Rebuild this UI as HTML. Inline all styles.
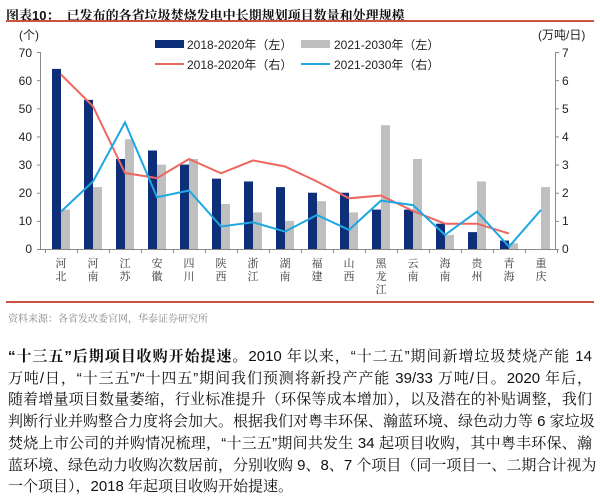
<!DOCTYPE html>
<html><head><meta charset="utf-8">
<style>
body{margin:0;width:600px;height:502px;background:#fff;overflow:hidden;position:relative;font-family:"Liberation Sans","Noto Sans CJK SC",sans-serif;}
.t{position:absolute;white-space:nowrap;}
.p{position:absolute;left:8px;width:584px;font-size:15px;line-height:18px;color:#111;text-align:justify;text-align-last:justify;white-space:nowrap;font-family:"Liberation Sans","Noto Serif CJK SC",serif;}
.p.last{text-align-last:left}
</style></head><body>
<div class="t" style="left:6px;top:5px;font-size:13px;font-weight:bold;color:#111;font-family:'Liberation Sans','Noto Serif CJK SC',serif;">图表10：&nbsp;&nbsp;已发布的各省垃圾焚烧发电中长期规划项目数量和处理规模</div>
<div style="position:absolute;left:6px;top:20px;width:588px;height:2px;background:#c9533e;"></div>
<svg width="600" height="310" style="position:absolute;left:0;top:0" id="c" font-family="Liberation Sans, Noto Sans CJK SC, sans-serif">
<g font-size="12" fill="#222">
<text x="19" y="39">(个)</text>
<text x="538" y="39">(万吨/日)</text>
<g text-anchor="end">
<text x="32" y="57">70</text><text x="32" y="85">60</text><text x="32" y="113">50</text><text x="32" y="141">40</text><text x="32" y="169">30</text><text x="32" y="197">20</text><text x="32" y="225">10</text><text x="32" y="253">0</text>
</g>
<text x="562" y="57">7</text><text x="562" y="85">6</text><text x="562" y="113">5</text><text x="562" y="141">4</text><text x="562" y="169">3</text><text x="562" y="197">2</text><text x="562" y="225">1</text><text x="562" y="253">0</text>
</g>
<g id="bars"></g>
<g stroke="#888" stroke-width="1" fill="none" id="axes">
<line x1="40.5" y1="52" x2="40.5" y2="249"/>
<line x1="555.5" y1="52" x2="555.5" y2="249"/>
<line x1="40" y1="249.5" x2="556" y2="249.5"/>
</g>
<g font-size="11" fill="#333" text-anchor="middle" id="xl" font-family="Liberation Serif, Noto Serif CJK SC, serif">
<text x="61" y="267">河</text><text x="61" y="280">北</text>
<text x="93" y="267">河</text><text x="93" y="280">南</text>
<text x="125" y="267">江</text><text x="125" y="280">苏</text>
<text x="157" y="267">安</text><text x="157" y="280">徽</text>
<text x="189" y="267">四</text><text x="189" y="280">川</text>
<text x="221" y="267">陕</text><text x="221" y="280">西</text>
<text x="253" y="267">浙</text><text x="253" y="280">江</text>
<text x="285" y="267">湖</text><text x="285" y="280">南</text>
<text x="317" y="267">福</text><text x="317" y="280">建</text>
<text x="349" y="267">山</text><text x="349" y="280">西</text>
<text x="381" y="267">黑</text><text x="381" y="280">龙</text><text x="381" y="293">江</text>
<text x="413" y="267">云</text><text x="413" y="280">南</text>
<text x="445" y="267">海</text><text x="445" y="280">南</text>
<text x="477" y="267">贵</text><text x="477" y="280">州</text>
<text x="509" y="267">青</text><text x="509" y="280">海</text>
<text x="541" y="267">重</text><text x="541" y="280">庆</text>
</g>
<g font-size="12" fill="#222">
<rect x="155" y="40" width="29" height="8" fill="#0d2f7a"/><text x="187" y="49">2018-2020年（左）</text>
<rect x="301" y="40" width="29" height="8" fill="#bfbfbf"/><text x="334" y="49">2021-2030年（左）</text>
<line x1="155" y1="64" x2="184" y2="64" stroke="#ee6660" stroke-width="2"/><text x="187" y="69">2018-2020年（右）</text>
<line x1="301" y1="64" x2="330" y2="64" stroke="#1ea7e0" stroke-width="2"/><text x="334" y="69">2021-2030年（右）</text>
</g>
</svg>
<script>
var d=[64,53,32,35,30,25,24,22,20,20,14,14,9,6,3,0];
var g=[14,22,39,30,32,16,13,10,17,13,44,32,5,24,2,22];
var r=[6.2,5.07,2.7,2.52,3.2,2.69,3.15,2.93,2.4,1.8,1.9,1.35,0.9,0.9,0.55,0.4];
var b=[1.33,2.4,4.5,1.84,2.08,0.8,0.95,0.62,1.21,0.68,1.72,1.56,0.5,1.33,0.08,1.39];
var ns="http://www.w3.org/2000/svg",bars=document.getElementById('bars'),ax=document.getElementById('axes');
function el(n,a,p){var e=document.createElementNS(ns,n);for(var k in a)e.setAttribute(k,a[k]);p.appendChild(e);return e;}
for(var i=0;i<16;i++){var x=45+32*i;
 if(d[i])el('rect',{x:x+7,y:249-d[i]*2.814,width:9,height:d[i]*2.814,fill:'#0d2f7a'},bars);
 if(g[i])el('rect',{x:x+16,y:249-g[i]*2.814,width:9,height:g[i]*2.814,fill:'#bfbfbf'},bars);
}
for(var i=0;i<=16;i++)el('line',{x1:45+32*i+.5,y1:249,x2:45+32*i+.5,y2:253},ax);
for(var v=0;v<=7;v++){var y=249-v*28.14+.5;el('line',{x1:37,y1:y,x2:40,y2:y},ax);el('line',{x1:555,y1:y,x2:559,y2:y},ax);}
function pl(a,c,n){var s=[];for(var i=0;i<n;i++)s.push((61+32*i)+','+(249-a[i]*28.14).toFixed(1));el('polyline',{points:s.join(' '),fill:'none',stroke:c,'stroke-width':2},bars.parentNode);}
pl(r,'#ee6660',15);pl(b,'#1ea7e0',16);
</script>
<div style="position:absolute;left:6px;top:301px;width:588px;height:2px;background:#c9533e;"></div>
<div class="t" style="left:8px;top:310px;font-size:10px;color:#888;font-family:'Liberation Serif','Noto Serif CJK SC',serif;">资料来源：各省发改委官网，华泰证券研究所</div>
<div class="p" style="top:348px"><b>“十三五”后期项目收购开始提速。</b>2010 年以来，“十二五”期间新增垃圾焚烧产能 14</div>
<div class="p" style="top:369.7px">万吨/日，“十三五”/“十四五”期间我们预测将新投产产能 39/33 万吨/日。2020 年后，</div>
<div class="p" style="top:391.4px">随着增量项目数量萎缩，行业标准提升（环保等成本增加），以及潜在的补贴调整，我们</div>
<div class="p" style="top:413.1px">判断行业并购整合力度将会加大。根据我们对粤丰环保、瀚蓝环境、绿色动力等 6 家垃圾</div>
<div class="p" style="top:434.8px">焚烧上市公司的并购情况梳理，“十三五”期间共发生 34 起项目收购，其中粤丰环保、瀚</div>
<div class="p" style="top:456.5px">蓝环境、绿色动力收购次数居前，分别收购 9、8、7 个项目（同一项目一、二期合计视为</div>
<div class="p last" style="top:478.2px">一个项目），2018 年起项目收购开始提速。</div>
</body></html>
